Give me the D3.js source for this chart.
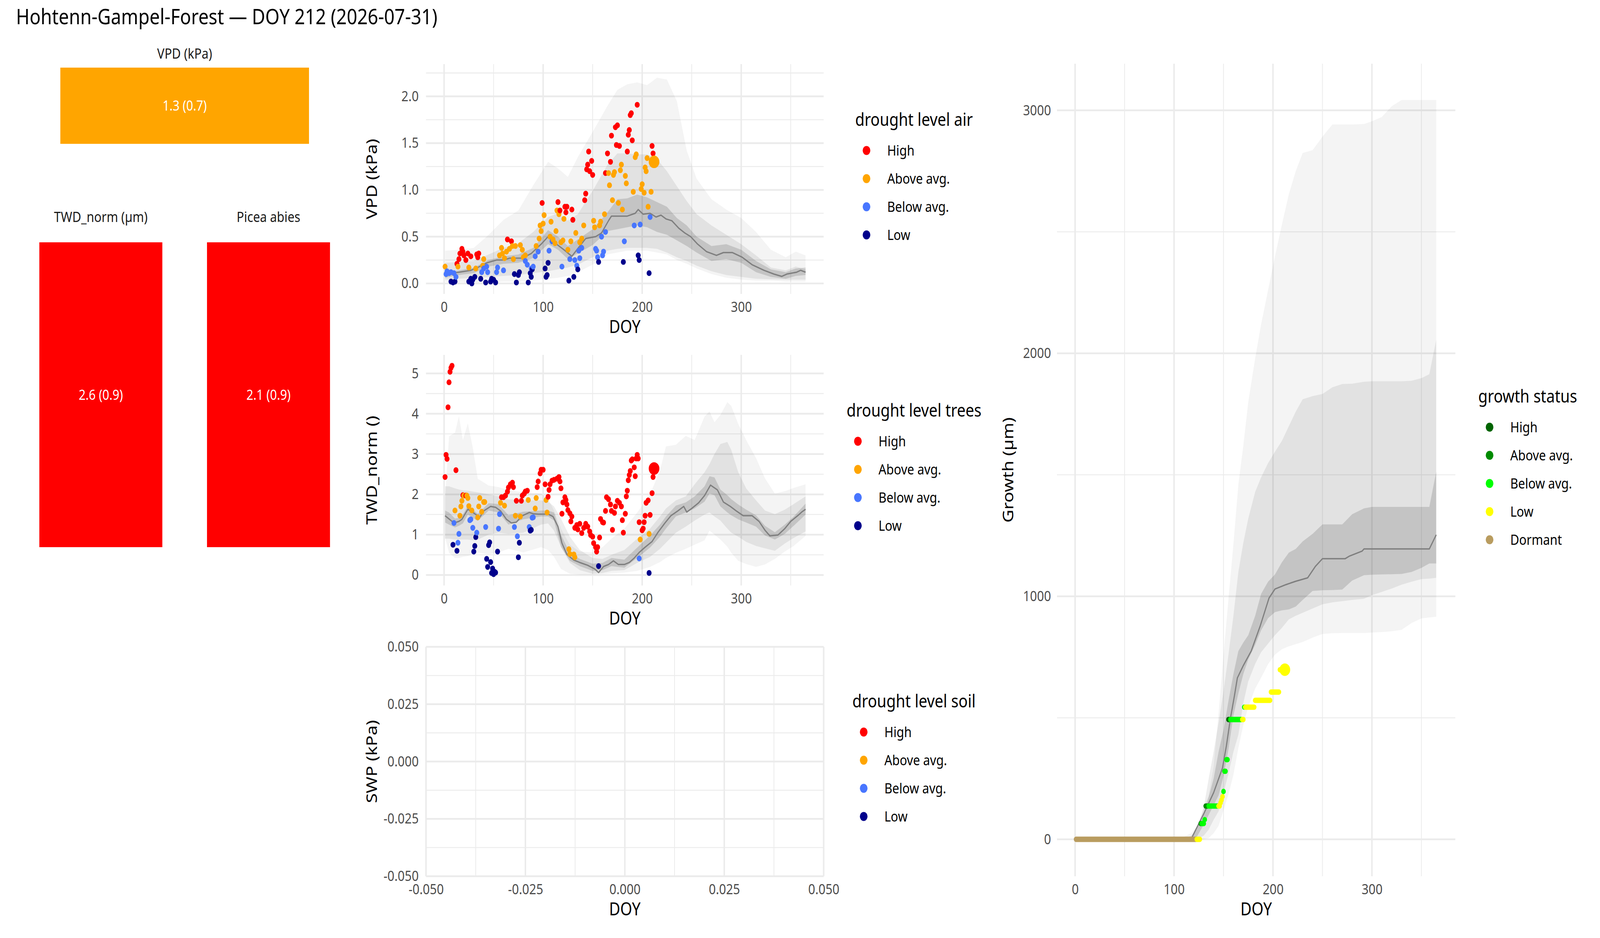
<!DOCTYPE html>
<html>
<head>
<meta charset="utf-8">
<script src="https://cdn.jsdelivr.net/npm/d3@7"></script>
<style>
  html, body { margin: 0; padding: 0; background: #fff; overflow: hidden; }
  svg { display: block; width: 100vw; height: 100vh; }
  text { font-family: "Noto Sans", "Open Sans", sans-serif; }
</style>
</head>
<body>
<div id="chart"></div>
<script>
// ---------------- DATA ----------------
const chartTitle = "Hohtenn-Gampel-Forest — DOY 212 (2026-07-31)";

const levels = ["High", "Above avg.", "Below avg.", "Low"];
const levelColors = ["#FF0000", "#FFA500", "#4876FF", "#00008B"];
const growthLevels = ["High", "Above avg.", "Below avg.", "Low", "Dormant"];
const growthColors = ["#006400", "#008B00", "#00FF00", "#FFFF00", "#B99C5F"];

// summary tiles on the left
const boxStrips = ["VPD (kPa)", "TWD_norm (µm)", "Picea abies"];
const boxTexts = ["1.3 (0.7)", "2.6 (0.9)", "2.1 (0.9)"];
const boxLevels = ["Above avg.", "High", "High"];

// ticks
const doyTicks = [0, 100, 200, 300];
const doyMinor = [50, 150, 250, 350];
const vpdTicks = [0, 0.5, 1.0, 1.5, 2.0];
const vpdMinor = [0.25, 0.75, 1.25, 1.75, 2.25];
const twdTicks = [0, 1, 2, 3, 4, 5];
const twdMinor = [0.5, 1.5, 2.5, 3.5, 4.5];
const swpTicks = [-0.05, -0.025, 0, 0.025, 0.05];
const swpMinor = [-0.0375, -0.0125, 0.0125, 0.0375];
const growthTicks = [0, 1000, 2000, 3000];
const growthMinor = [500, 1500, 2500];

// today
const vpdToday = [212, 1.30, "Above avg."];
const twdToday = [212, 2.64, "High"];
const growthToday = [212, 698, "Low"];

// VPD climatology bands (DOY grid)
const vpdBandDoy = [1, 15, 30, 45, 60, 75, 90, 105, 115, 125, 135, 150, 165, 175, 185, 195, 205, 215, 225, 235, 245, 255, 270, 285, 300, 315, 330, 345, 355, 365];
const vpdOuterHi = [0.35, 0.36, 0.38, 0.52, 0.68, 0.78, 1.05, 1.30, 1.23, 1.14, 1.35, 1.62, 1.90, 2.07, 2.13, 2.15, 2.12, 2.20, 2.18, 1.95, 1.42, 1.12, 0.90, 0.79, 0.70, 0.55, 0.36, 0.28, 0.34, 0.30];
const vpdOuterLo = [0.02, 0.015, 0.01, 0.01, 0.02, 0.02, 0.03, 0.05, 0.06, 0.08, 0.12, 0.20, 0.31, 0.33, 0.35, 0.35, 0.35, 0.33, 0.31, 0.25, 0.21, 0.16, 0.10, 0.06, 0.04, 0.03, 0.03, 0.02, 0.02, 0.02];
const vpdMidHi = [0.22, 0.23, 0.24, 0.31, 0.38, 0.43, 0.55, 0.71, 0.75, 0.67, 0.74, 0.99, 1.27, 1.39, 1.39, 1.38, 1.38, 1.33, 1.20, 1.04, 0.88, 0.74, 0.62, 0.52, 0.42, 0.30, 0.17, 0.14, 0.18, 0.15];
const vpdMidLo = [0.04, 0.05, 0.06, 0.07, 0.08, 0.09, 0.11, 0.13, 0.15, 0.17, 0.20, 0.28, 0.35, 0.37, 0.38, 0.38, 0.38, 0.37, 0.33, 0.28, 0.24, 0.19, 0.13, 0.09, 0.07, 0.05, 0.045, 0.04, 0.04, 0.04];
const vpdInnerHi = [0.12, 0.14, 0.17, 0.25, 0.29, 0.31, 0.38, 0.57, 0.50, 0.40, 0.47, 0.58, 0.76, 0.90, 0.91, 0.95, 0.92, 0.87, 0.82, 0.70, 0.62, 0.50, 0.40, 0.42, 0.36, 0.24, 0.15, 0.12, 0.16, 0.17];
const vpdInnerLo = [0.06, 0.09, 0.11, 0.18, 0.21, 0.22, 0.27, 0.42, 0.36, 0.26, 0.32, 0.41, 0.56, 0.58, 0.60, 0.62, 0.60, 0.55, 0.52, 0.46, 0.40, 0.33, 0.24, 0.26, 0.22, 0.12, 0.07, 0.05, 0.08, 0.09];
const vpdMedian = [[1,0.09],[8,0.11],[15,0.12],[27,0.14],[34,0.17],[43,0.22],[53,0.25],[60,0.25],[66,0.27],[79,0.27],[88,0.32],[98,0.42],[105,0.50],[111,0.44],[121,0.36],[129,0.29],[137,0.40],[143,0.48],[153,0.50],[159,0.54],[166,0.67],[169,0.72],[175,0.72],[185,0.72],[193,0.75],[196,0.79],[201,0.74],[208,0.75],[214,0.71],[219,0.73],[224,0.69],[230,0.67],[237,0.59],[243,0.54],[249,0.50],[256,0.42],[265,0.34],[275,0.30],[282,0.33],[291,0.33],[301,0.28],[311,0.20],[323,0.14],[333,0.10],[341,0.075],[346,0.10],[356,0.12],[360,0.14],[365,0.12]];

// VPD daily values of the current year, by drought level
const vpdHigh = [[13,0.21],[15,0.26],[16,0.32],[18,0.37],[19,0.34],[20,0.30],[22,0.25],[24,0.32],[27,0.29],[33,0.31],[34,0.28],[35,0.32],[64,0.47],[68,0.45],[99,0.86],[115,0.87],[117,0.78],[122,0.82],[123,0.76],[124,0.82],[129,0.79],[130,0.68],[142,0.89],[143,0.96],[144,1.22],[145,1.27],[146,1.41],[147,1.20],[149,1.31],[150,1.16],[163,1.18],[165,1.39],[168,1.30],[169,1.58],[173,1.67],[174,1.48],[175,1.69],[177,1.47],[185,1.41],[186,1.59],[187,1.64],[188,1.80],[189,1.82],[190,1.53],[195,1.91],[210,1.47],[211,1.39]];
const vpdAbove = [[1,0.18],[14,0.18],[25,0.17],[32,0.16],[39,0.19],[40,0.26],[56,0.30],[58,0.38],[59,0.32],[61,0.27],[63,0.34],[66,0.37],[69,0.40],[70,0.26],[72,0.40],[77,0.41],[79,0.36],[80,0.28],[82,0.30],[93,0.40],[96,0.48],[97,0.62],[98,0.56],[100,0.64],[101,0.73],[107,0.50],[108,0.66],[110,0.47],[112,0.43],[113,0.56],[114,0.78],[116,0.74],[118,0.44],[120,0.46],[121,0.69],[125,0.36],[128,0.45],[133,0.54],[137,0.44],[139,0.48],[141,0.62],[151,0.67],[152,0.60],[157,0.62],[158,0.66],[162,0.74],[166,1.18],[167,1.05],[170,0.89],[171,1.16],[172,1.19],[176,0.86],[178,1.21],[179,1.27],[180,0.79],[183,1.15],[184,1.07],[191,0.98],[193,1.35],[194,1.38],[199,1.01],[200,1.06],[202,0.97],[203,1.24],[204,1.20],[205,1.34],[206,0.82],[209,0.98]];
const vpdBelow = [[2,0.10],[3,0.13],[5,0.11],[7,0.12],[10,0.11],[12,0.07],[38,0.12],[40,0.16],[43,0.18],[44,0.12],[53,0.12],[54,0.17],[60,0.14],[82,0.24],[84,0.20],[88,0.16],[90,0.18],[92,0.29],[95,0.34],[106,0.35],[109,0.45],[119,0.18],[127,0.26],[132,0.25],[134,0.19],[136,0.35],[137,0.27],[139,0.38],[153,0.37],[154,0.35],[155,0.28],[159,0.50],[160,0.30],[161,0.34],[163,0.55],[182,0.45],[192,0.62],[198,0.63],[208,0.71]];
const vpdLow = [[7,0.02],[9,0.01],[11,0.02],[25,0.02],[27,0.05],[28,0.00],[29,0.04],[31,0.07],[37,0.05],[42,0.01],[47,0.02],[48,0.05],[50,0.04],[52,0.01],[71,0.10],[73,0.01],[75,0.09],[76,0.12],[85,0.01],[87,0.11],[88,0.07],[89,0.15],[102,0.16],[103,0.07],[104,0.09],[105,0.22],[126,0.03],[131,0.07],[135,0.15],[156,0.23],[181,0.23],[196,0.30],[197,0.25],[207,0.11]];

// TWD_norm climatology bands
const twdBandDoy = [1, 5, 11, 15, 19, 24, 29, 34, 45, 55, 65, 80, 98, 105, 111, 118, 127, 137, 150, 160, 169, 182, 195, 208, 218, 224, 234, 244, 253, 263, 268, 273, 279, 286, 290, 297, 305, 315, 324, 334, 344, 353, 365];
const twdOuterHi = [1.93, 3.44, 3.53, 3.94, 3.35, 3.76, 3.16, 2.39, 2.22, 2.18, 2.11, 2.05, 2.02, 1.90, 1.60, 1.15, 0.75, 0.58, 0.56, 0.69, 0.90, 1.15, 1.55, 2.00, 2.60, 3.19, 3.23, 3.45, 3.35, 3.93, 4.06, 3.79, 3.97, 4.29, 4.19, 3.75, 3.35, 2.90, 2.40, 2.02, 2.08, 2.16, 2.25];
const twdOuterLo = [0.92, 0.55, 0.42, 0.42, 0.45, 0.47, 0.52, 0.56, 0.51, 0.56, 0.65, 0.56, 0.69, 0.62, 0.45, 0.15, 0.03, 0.01, 0.01, 0.02, 0.04, 0.06, 0.10, 0.20, 0.32, 0.42, 0.55, 0.65, 0.75, 0.86, 1.10, 1.00, 0.88, 0.70, 0.55, 0.35, 0.27, 0.20, 0.26, 0.40, 0.58, 0.72, 0.97];
const twdMidHi = [2.20, 2.20, 2.15, 2.12, 2.10, 2.09, 2.07, 2.05, 2.00, 1.95, 1.88, 1.85, 1.85, 1.82, 1.70, 1.40, 0.95, 0.62, 0.42, 0.40, 0.50, 0.62, 0.90, 1.15, 1.45, 1.65, 1.85, 1.95, 2.25, 2.55, 2.75, 3.00, 3.25, 3.30, 3.10, 2.55, 2.15, 1.85, 1.60, 1.51, 1.62, 1.76, 1.95];
const twdMidLo = [0.90, 0.90, 0.88, 0.88, 0.88, 0.88, 0.86, 0.88, 1.00, 1.05, 1.02, 1.05, 1.25, 1.28, 1.10, 0.70, 0.30, 0.12, 0.03, 0.05, 0.10, 0.12, 0.30, 0.45, 0.65, 0.80, 1.05, 1.20, 1.35, 1.50, 1.55, 1.45, 1.35, 1.15, 1.05, 0.95, 0.82, 0.72, 0.66, 0.60, 0.78, 0.92, 1.08];
const twdInnerHi = [1.60, 1.55, 1.40, 1.42, 1.50, 1.72, 1.62, 1.52, 1.78, 1.76, 1.48, 1.57, 1.60, 1.60, 1.55, 1.00, 0.55, 0.40, 0.28, 0.30, 0.42, 0.38, 0.68, 0.98, 1.25, 1.45, 1.72, 1.80, 1.95, 2.20, 2.45, 2.42, 2.12, 1.98, 1.88, 1.75, 1.62, 1.48, 1.22, 1.06, 1.25, 1.45, 1.77];
const twdInnerLo = [1.30, 1.25, 1.18, 1.22, 1.28, 1.50, 1.42, 1.34, 1.60, 1.55, 1.25, 1.38, 1.45, 1.45, 1.35, 0.70, 0.35, 0.22, 0.10, 0.12, 0.22, 0.18, 0.42, 0.68, 0.95, 1.15, 1.45, 1.55, 1.65, 1.82, 2.02, 1.98, 1.70, 1.55, 1.48, 1.38, 1.30, 1.20, 0.98, 0.88, 1.02, 1.22, 1.50];
const twdMedian = [[1,1.47],[10,1.29],[15,1.33],[18,1.38],[24,1.63],[31,1.52],[36,1.43],[40,1.59],[47,1.70],[52,1.68],[57,1.59],[63,1.38],[68,1.29],[73,1.31],[79,1.47],[86,1.55],[90,1.52],[95,1.51],[105,1.51],[110,1.45],[115,1.20],[119,0.79],[124,0.51],[131,0.37],[137,0.31],[145,0.24],[152,0.15],[156,0.06],[161,0.21],[166,0.26],[171,0.35],[176,0.26],[182,0.26],[187,0.31],[192,0.42],[197,0.56],[203,0.69],[210,0.83],[216,1.06],[223,1.29],[229,1.47],[236,1.59],[242,1.70],[245,1.56],[250,1.65],[257,1.79],[263,1.97],[269,2.23],[276,2.11],[282,1.81],[289,1.70],[295,1.59],[302,1.47],[311,1.47],[318,1.33],[324,1.11],[329,0.97],[337,0.99],[344,1.15],[350,1.33],[357,1.47],[361,1.56],[365,1.63]];

// TWD_norm daily values, by drought level
const twdHigh = [[1,2.43],[2,2.98],[3,2.88],[4,4.16],[5,4.78],[6,5.04],[7,5.14],[8,5.19],[12,2.60],[19,1.98],[22,1.97],[58,1.93],[60,1.93],[62,1.97],[64,2.07],[65,2.17],[67,2.25],[69,2.29],[70,2.18],[73,1.84],[78,1.84],[79,1.97],[81,2.02],[82,2.07],[84,2.09],[94,2.18],[95,2.32],[97,2.52],[98,2.61],[100,2.61],[102,2.25],[105,1.94],[106,2.11],[107,2.25],[109,2.34],[111,2.36],[114,2.39],[116,2.43],[117,2.32],[118,2.15],[119,1.52],[120,1.80],[122,1.93],[123,1.86],[124,1.75],[125,1.61],[127,1.53],[128,1.33],[129,1.45],[132,1.17],[134,1.24],[135,1.13],[137,1.27],[139,1.04],[141,1.17],[143,1.27],[145,1.20],[147,1.08],[148,0.99],[150,0.95],[151,0.79],[153,0.69],[154,0.58],[155,0.69],[157,0.93],[158,1.39],[160,1.31],[161,1.30],[163,1.59],[164,1.93],[166,1.88],[168,1.75],[169,1.59],[170,1.12],[172,1.54],[173,1.70],[175,1.84],[177,1.79],[179,1.70],[180,1.36],[181,1.05],[183,1.52],[184,1.95],[185,2.09],[186,2.35],[187,2.48],[188,2.58],[189,2.84],[190,2.87],[192,2.67],[193,2.45],[194,2.89],[195,2.98],[196,2.89],[197,1.31],[200,1.11],[201,1.15],[202,1.31],[203,1.47],[204,1.79],[206,1.85],[208,1.49],[210,2.03],[211,2.43]];
const twdAbove = [[11,1.60],[16,1.47],[17,1.70],[18,1.84],[20,1.97],[23,1.97],[24,1.91],[25,1.71],[28,1.60],[34,1.43],[35,1.70],[36,1.91],[38,1.57],[40,1.81],[41,1.81],[57,1.79],[61,1.72],[72,1.47],[77,1.45],[85,1.86],[92,1.65],[93,1.91],[103,1.86],[104,1.55],[126,0.64],[127,0.52],[131,0.51],[132,0.44],[198,0.88],[207,1.02]];
const twdBelow = [[10,1.29],[14,0.80],[15,1.02],[26,1.36],[27,1.38],[29,1.17],[33,1.05],[42,1.19],[55,1.15],[56,1.51],[71,1.19],[74,0.96],[86,1.19],[89,1.42],[90,1.43],[197,0.41]];
const twdLow = [[9,0.75],[13,0.60],[30,0.58],[31,0.72],[32,0.94],[43,0.40],[44,0.20],[45,0.74],[46,0.81],[47,0.32],[48,0.05],[49,0.16],[50,0.02],[51,0.08],[52,0.06],[54,0.58],[75,0.44],[76,0.80],[87,1.10],[88,1.12],[156,0.22],[207,0.05]];

// growth climatology bands
const growthBandDoy = [1, 100, 110, 117, 123, 130, 135, 140, 145, 150, 155, 160, 165, 170, 175, 182, 188, 195, 202, 209, 216, 223, 230, 240, 250, 260, 270, 280, 292, 300, 310, 320, 330, 340, 350, 358, 365];
const growthOuterHi = [0, 0, 10, 25, 50, 130, 180, 300, 520, 760, 990, 1215, 1460, 1620, 1800, 1980, 2120, 2260, 2400, 2530, 2655, 2750, 2825, 2836, 2892, 2942, 2942, 2942, 2944, 2955, 2973, 3017, 3043, 3043, 3043, 3043, 3043];
const growthOuterLo = [0, 0, 0, 0, 0, 0, 5, 25, 55, 120, 185, 265, 375, 470, 545, 620, 665, 720, 760, 782, 794, 803, 812, 830, 845, 848, 849, 849, 849, 851, 853, 856, 862, 890, 909, 913, 916];
const growthMidHi = [0, 0, 0, 15, 40, 130, 250, 360, 480, 610, 760, 920, 1100, 1220, 1320, 1430, 1490, 1548, 1595, 1640, 1700, 1760, 1811, 1824, 1833, 1860, 1874, 1875, 1883, 1885, 1885, 1885, 1885, 1887, 1898, 1914, 2056];
const growthMidLo = [0, 0, 0, 0, 0, 15, 40, 80, 115, 190, 270, 360, 430, 560, 650, 722, 770, 805, 840, 870, 905, 920, 932, 950, 967, 975, 980, 985, 990, 1005, 1018, 1032, 1048, 1060, 1071, 1073, 1076];
const growthInnerHi = [0, 0, 0, 5, 50, 110, 174, 250, 360, 450, 570, 680, 775, 810, 840, 920, 1010, 1060, 1090, 1140, 1180, 1195, 1226, 1257, 1296, 1296, 1296, 1338, 1362, 1368, 1368, 1368, 1368, 1368, 1368, 1368, 1513];
const growthInnerLo = [0, 0, 0, 0, 10, 60, 100, 140, 180, 260, 370, 510, 600, 680, 740, 800, 860, 910, 935, 942, 946, 958, 985, 1022, 1025, 1026, 1028, 1065, 1087, 1089, 1090, 1091, 1092, 1100, 1117, 1135, 1135];
const growthMedian = [[1,0],[117,0],[118,7],[130,105],[140,192],[149,294],[153,387],[157,498],[161,590],[164,664],[170,715],[178,775],[187,877],[196,993],[202,1030],[213,1048],[223,1062],[235,1076],[243,1124],[250,1155],[273,1155],[277,1165],[290,1186],[292,1195],[358,1195],[365,1253]];

// growth of the current year: runs of days with the same value [firstDoy, lastDoy, value, status]
const growthRuns = [
  [1, 122, 0, "Dormant"],
  [123, 126, 0, "Low"],
  [127, 127, 65, "Above avg."],
  [128, 130, 65, "Below avg."],
  [131, 131, 81, "Below avg."],
  [132, 134, 137, "Above avg."],
  [135, 144, 137, "Below avg."],
  [145, 146, 137, "Low"],
  [147, 147, 150, "Low"],
  [148, 148, 162, "Low"],
  [149, 149, 176, "Low"],
  [150, 150, 197, "Below avg."],
  [151, 152, 280, "Below avg."],
  [153, 154, 328, "Below avg."],
  [155, 156, 493, "High"],
  [157, 168, 493, "Below avg."],
  [169, 170, 493, "Low"],
  [171, 171, 544, "Below avg."],
  [172, 181, 544, "Low"],
  [182, 197, 572, "Low"],
  [198, 206, 606, "Low"],
  [207, 210, 698, "Low"]
];

// ---------------- LAYOUT ----------------
// drawn in a 4800x2400 coordinate system, stretched to fill the window
const width = 4800, height = 2400;
const fs = { title: 55, axisTitle: 45.8, tick: 36.7, legendTitle: 45.8, legendText: 36.7, strip: 36.7 };
const gridColor = "#EBEBEB";

const svg = d3.select("#chart").append("svg")
  .attr("viewBox", `0 0 ${width} ${height}`)
  .attr("preserveAspectRatio", "none");

svg.append("rect").attr("width", width).attr("height", height).attr("fill", "#fff");

const levelColor = d3.scaleOrdinal().domain(levels).range(levelColors);
const growthColor = d3.scaleOrdinal().domain(growthLevels).range(growthColors);

// title
svg.append("text")
  .attr("x", 48).attr("y", 62)
  .attr("font-size", fs.title)
  .attr("fill", "#000")
  .text(chartTitle);

// ---------------- SUMMARY TILES ----------------
const tiles = [
  { x0: 181, x1: 927, y0: 173, y1: 368, stripY: 150 },
  { x0: 118, x1: 487, y0: 620, y1: 1400, stripY: 568 },
  { x0: 621, x1: 990, y0: 620, y1: 1400, stripY: 568 }
];

tiles.forEach((t, i) => {
  const cx = (t.x0 + t.x1) / 2;
  svg.append("text")
    .attr("x", cx).attr("y", t.stripY)
    .attr("text-anchor", "middle")
    .attr("font-size", fs.strip)
    .attr("fill", "#1A1A1A")
    .text(boxStrips[i]);
  svg.append("rect")
    .attr("x", t.x0).attr("y", t.y0)
    .attr("width", t.x1 - t.x0).attr("height", t.y1 - t.y0)
    .attr("fill", levelColor(boxLevels[i]));
  svg.append("text")
    .attr("x", cx).attr("y", (t.y0 + t.y1) / 2)
    .attr("dy", "0.35em")
    .attr("text-anchor", "middle")
    .attr("font-size", 36)
    .attr("fill", "#fff")
    .text(boxTexts[i]);
});

// ---------------- PANEL HELPER ----------------
function panel(o) {
  const x = d3.scaleLinear().domain(o.xDomain).range([o.x0, o.x1]);
  const y = d3.scaleLinear().domain(o.yDomain).range([o.y1, o.y0]);
  const g = svg.append("g");

  // grid
  const grid = g.append("g");
  const vLines = (vals, w) => grid.selectAll(null).data(vals).join("line")
    .attr("x1", d => x(d)).attr("x2", d => x(d))
    .attr("y1", o.y0).attr("y2", o.y1)
    .attr("stroke", gridColor).attr("stroke-width", w);
  const hLines = (vals, w) => grid.selectAll(null).data(vals).join("line")
    .attr("y1", d => y(d)).attr("y2", d => y(d))
    .attr("x1", o.x0).attr("x2", o.x1)
    .attr("stroke", gridColor).attr("stroke-width", w);
  vLines(o.xMinor, 2.3); hLines(o.yMinor, 2.3);
  vLines(o.xTicks, 4.5); hLines(o.yTicks, 4.5);

  // axes (labels only)
  const xa = svg.append("g")
    .attr("transform", `translate(0,${o.y1})`)
    .call(d3.axisBottom(x).tickValues(o.xTicks).tickFormat(o.xFmt).tickSize(0).tickPadding(20));
  const ya = svg.append("g")
    .attr("transform", `translate(${o.x0},0)`)
    .call(d3.axisLeft(y).tickValues(o.yTicks).tickFormat(o.yFmt).tickSize(0).tickPadding(o.yPad));
  [xa, ya].forEach(a => {
    a.select(".domain").remove();
    a.selectAll("text")
      .attr("font-size", fs.tick)
      .attr("fill", "#4D4D4D")
      .style("font-family", '"Noto Sans", "Open Sans", sans-serif');
  });

  svg.append("text")
    .attr("x", (o.x0 + o.x1) / 2).attr("y", o.y1 + 100)
    .attr("text-anchor", "middle")
    .attr("font-size", fs.axisTitle)
    .text("DOY");
  svg.append("text")
    .attr("transform", `translate(${o.yTitleX},${(o.y0 + o.y1) / 2}) rotate(-90)`)
    .attr("text-anchor", "middle")
    .attr("font-size", fs.axisTitle)
    .text(o.yTitle);

  return { g, x, y };
}

function bands(p, doy, layers) {
  const area = d3.area()
    .x(d => p.x(d[0]))
    .y0(d => p.y(d[1]))
    .y1(d => p.y(d[2]));
  layers.forEach(([lo, hi, op]) => {
    p.g.append("path")
      .datum(doy.map((d, i) => [d, lo[i], hi[i]]))
      .attr("d", area)
      .attr("fill", "#000")
      .attr("fill-opacity", op);
  });
}

function medianLine(p, data) {
  const line = d3.line().x(d => p.x(d[0])).y(d => p.y(d[1]));
  p.g.append("path")
    .datum(data)
    .attr("d", line)
    .attr("fill", "none")
    .attr("stroke", "#7F7F7F")
    .attr("stroke-width", 3.5)
    .attr("stroke-linejoin", "round");
}

function dots(p, byLevel, today) {
  const all = [];
  levels.forEach((lv, i) => byLevel[i].forEach(d => all.push([d[0], d[1], lv])));
  all.sort((a, b) => a[0] - b[0]);
  p.g.selectAll(null).data(all).join("circle")
    .attr("cx", d => p.x(d[0]))
    .attr("cy", d => p.y(d[1]))
    .attr("r", 7.4)
    .attr("fill", d => levelColor(d[2]));
  p.g.append("circle")
    .attr("cx", p.x(today[0])).attr("cy", p.y(today[1]))
    .attr("r", 16)
    .attr("fill", levelColor(today[2]));
}

function legend(cx, baseline, title, labels, colorFn) {
  const g = svg.append("g");
  const t = g.append("text")
    .attr("y", baseline)
    .attr("font-size", fs.legendTitle)
    .text(title);
  const w = t.node().getComputedTextLength();
  const x0 = cx - w / 2;
  t.attr("x", x0);
  labels.forEach((lab, i) => {
    const cy = baseline + 63 + i * 72;
    g.append("circle")
      .attr("cx", x0 + 34).attr("cy", cy).attr("r", 11.5)
      .attr("fill", colorFn(lab));
    g.append("text")
      .attr("x", x0 + 96).attr("y", cy).attr("dy", "0.35em")
      .attr("font-size", fs.legendText)
      .text(lab);
  });
}

const doyDomain = [-18.25, 383.25];
const fmt1 = d3.format(".1f"), fmtInt = d3.format("d");

// ---------------- VPD ----------------
const vpd = panel({
  x0: 1278, x1: 2471, y0: 164, y1: 752,
  xDomain: doyDomain, yDomain: [-0.112, 2.345],
  xTicks: doyTicks, xMinor: doyMinor, yTicks: vpdTicks, yMinor: vpdMinor,
  xFmt: fmtInt, yFmt: fmt1, yPad: 22, yTitle: "VPD (kPa)", yTitleX: 1131
});
bands(vpd, vpdBandDoy, [[vpdOuterLo, vpdOuterHi, 0.045], [vpdMidLo, vpdMidHi, 0.07], [vpdInnerLo, vpdInnerHi, 0.13]]);
medianLine(vpd, vpdMedian);
dots(vpd, [vpdHigh, vpdAbove, vpdBelow, vpdLow], vpdToday);
legend(2742, 322, "drought level air", levels, levelColor);

// ---------------- TWD ----------------
const twd = panel({
  x0: 1278, x1: 2471, y0: 908, y1: 1498,
  xDomain: doyDomain, yDomain: [-0.26, 5.46],
  xTicks: doyTicks, xMinor: doyMinor, yTicks: twdTicks, yMinor: twdMinor,
  xFmt: fmtInt, yFmt: fmtInt, yPad: 22, yTitle: "TWD_norm ()", yTitleX: 1131
});
bands(twd, twdBandDoy, [[twdOuterLo, twdOuterHi, 0.045], [twdMidLo, twdMidHi, 0.07], [twdInnerLo, twdInnerHi, 0.13]]);
medianLine(twd, twdMedian);
dots(twd, [twdHigh, twdAbove, twdBelow, twdLow], twdToday);
legend(2742, 1066, "drought level trees", levels, levelColor);

// ---------------- SWP (no data) ----------------
const swpFmt = v => v.toFixed(3);
panel({
  x0: 1278, x1: 2471, y0: 1655, y1: 2242,
  xDomain: [-0.05, 0.05], yDomain: [-0.05, 0.05],
  xTicks: swpTicks, xMinor: swpMinor, yTicks: swpTicks, yMinor: swpMinor,
  xFmt: swpFmt, yFmt: swpFmt, yPad: 22, yTitle: "SWP (kPa)", yTitleX: 1131
});
legend(2742, 1810, "drought level soil", levels, levelColor);

// ---------------- GROWTH ----------------
const gro = panel({
  x0: 3171, x1: 4366, y0: 163, y1: 2242,
  xDomain: [-18.3, 384.3], yDomain: [-152, 3192],
  xTicks: doyTicks, xMinor: doyMinor, yTicks: growthTicks, yMinor: growthMinor,
  xFmt: fmtInt, yFmt: fmtInt, yPad: 18, yTitle: "Growth (µm)", yTitleX: 3040
});
bands(gro, growthBandDoy, [[growthOuterLo, growthOuterHi, 0.045], [growthMidLo, growthMidHi, 0.07], [growthInnerLo, growthInnerHi, 0.13]]);
medianLine(gro, growthMedian);

const rr = 6.9;
gro.g.selectAll(null).data(growthRuns).join("rect")
  .attr("x", d => gro.x(d[0]) - rr)
  .attr("y", d => gro.y(d[2]) - rr)
  .attr("width", d => gro.x(d[1]) - gro.x(d[0]) + 2 * rr)
  .attr("height", 2 * rr)
  .attr("rx", rr).attr("ry", rr)
  .attr("fill", d => growthColor(d[3]));
gro.g.append("circle")
  .attr("cx", gro.x(growthToday[0])).attr("cy", gro.y(growthToday[1]))
  .attr("r", 16)
  .attr("fill", growthColor(growthToday[2]));

legend(4583, 1030, "growth status", growthLevels, growthColor);
</script>
</body>
</html>
